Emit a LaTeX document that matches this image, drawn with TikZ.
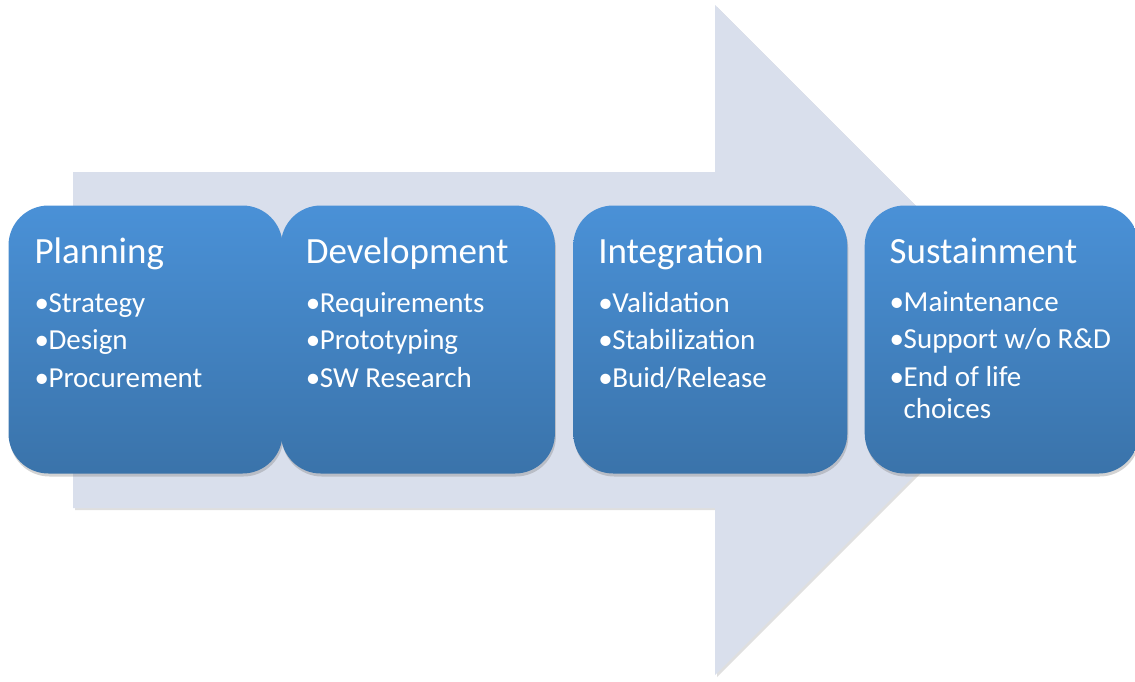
\documentclass[tikz,border=0pt]{standalone}
\usepackage{fontspec}
\setmainfont{Carlito}
\usetikzlibrary{positioning,shadows}
\definecolor{arrowfill}{RGB}{217,223,236}
\definecolor{phasetop}{RGB}{74,145,215}
\definecolor{phasebottom}{RGB}{58,115,170}
\tikzset{
	phase/.style={rectangle, rounded corners=40pt, minimum width=274pt, minimum height=268pt,
		top color=phasetop, bottom color=phasebottom, draw=none,
		drop shadow={opacity=0.35, shadow xshift=1pt, shadow yshift=-3pt}},
	phasetitle/.style={anchor=base west, inner sep=0pt, text=white, font=\fontsize{37}{44}\selectfont},
	phaseitems/.style={anchor=base west, inner sep=0pt, text=white, align=left, font=\fontsize{29}{37.5}\selectfont}
}
\newcommand{\bul}{\makebox[14pt][l]{•}}
\begin{document}
\begin{tikzpicture}[x=1pt,y=-1pt]
	\useasboundingbox (0,0) rectangle (1135,681);
	
	\fill [arrowfill, drop shadow={opacity=0.25, shadow xshift=2pt, shadow yshift=-2pt}]
		(73,172) -- (715,172) -- (715,5) -- (1050,340) -- (715,675) -- (715,508) -- (73,508) -- cycle;
	
	\node [phase] (plan) at (145.5,339.5) {};
	\node [phase, right=-2pt of plan] (dev) {};
	\node [phase, right=18pt of dev] (integ) {};
	\node [phase, right=17pt of integ] (sustain) {};
	
	% base of the items is the last line
	\node [phasetitle] (plan-title) at ([xshift=26pt,yshift=-58pt]plan.north west) {Planning};
	\node [phaseitems] (plan-items) at ([xshift=26pt,yshift=-182pt]plan.north west)
		{\bul Strategy\\ \bul Design\\ \bul Procurement};
	
	\node [phasetitle] (dev-title) at ([xshift=25pt,yshift=-58pt]dev.north west) {Development};
	\node [phaseitems] (dev-items) at ([xshift=25pt,yshift=-182pt]dev.north west)
		{\bul Requirements\\ \bul Prototyping\\ \bul SW Research};
	
	\node [phasetitle] (integ-title) at ([xshift=25pt,yshift=-58pt]integ.north west) {Integration};
	\node [phaseitems] (integ-items) at ([xshift=25pt,yshift=-182pt]integ.north west)
		{\bul Validation\\ \bul Stabilization\\ \bul Buid/Release};
	
	\node [phasetitle] (sustain-title) at ([xshift=25pt,yshift=-58pt]sustain.north west) {Sustainment};
	\node [phaseitems] (sustain-items) at ([xshift=25pt,yshift=-213pt]sustain.north west)
		{\bul Maintenance\\ \bul Support w/o R\&D\\ \bul End of life\\[-5.5pt] \hspace*{14pt}choices};
	
\end{tikzpicture}
\end{document}
